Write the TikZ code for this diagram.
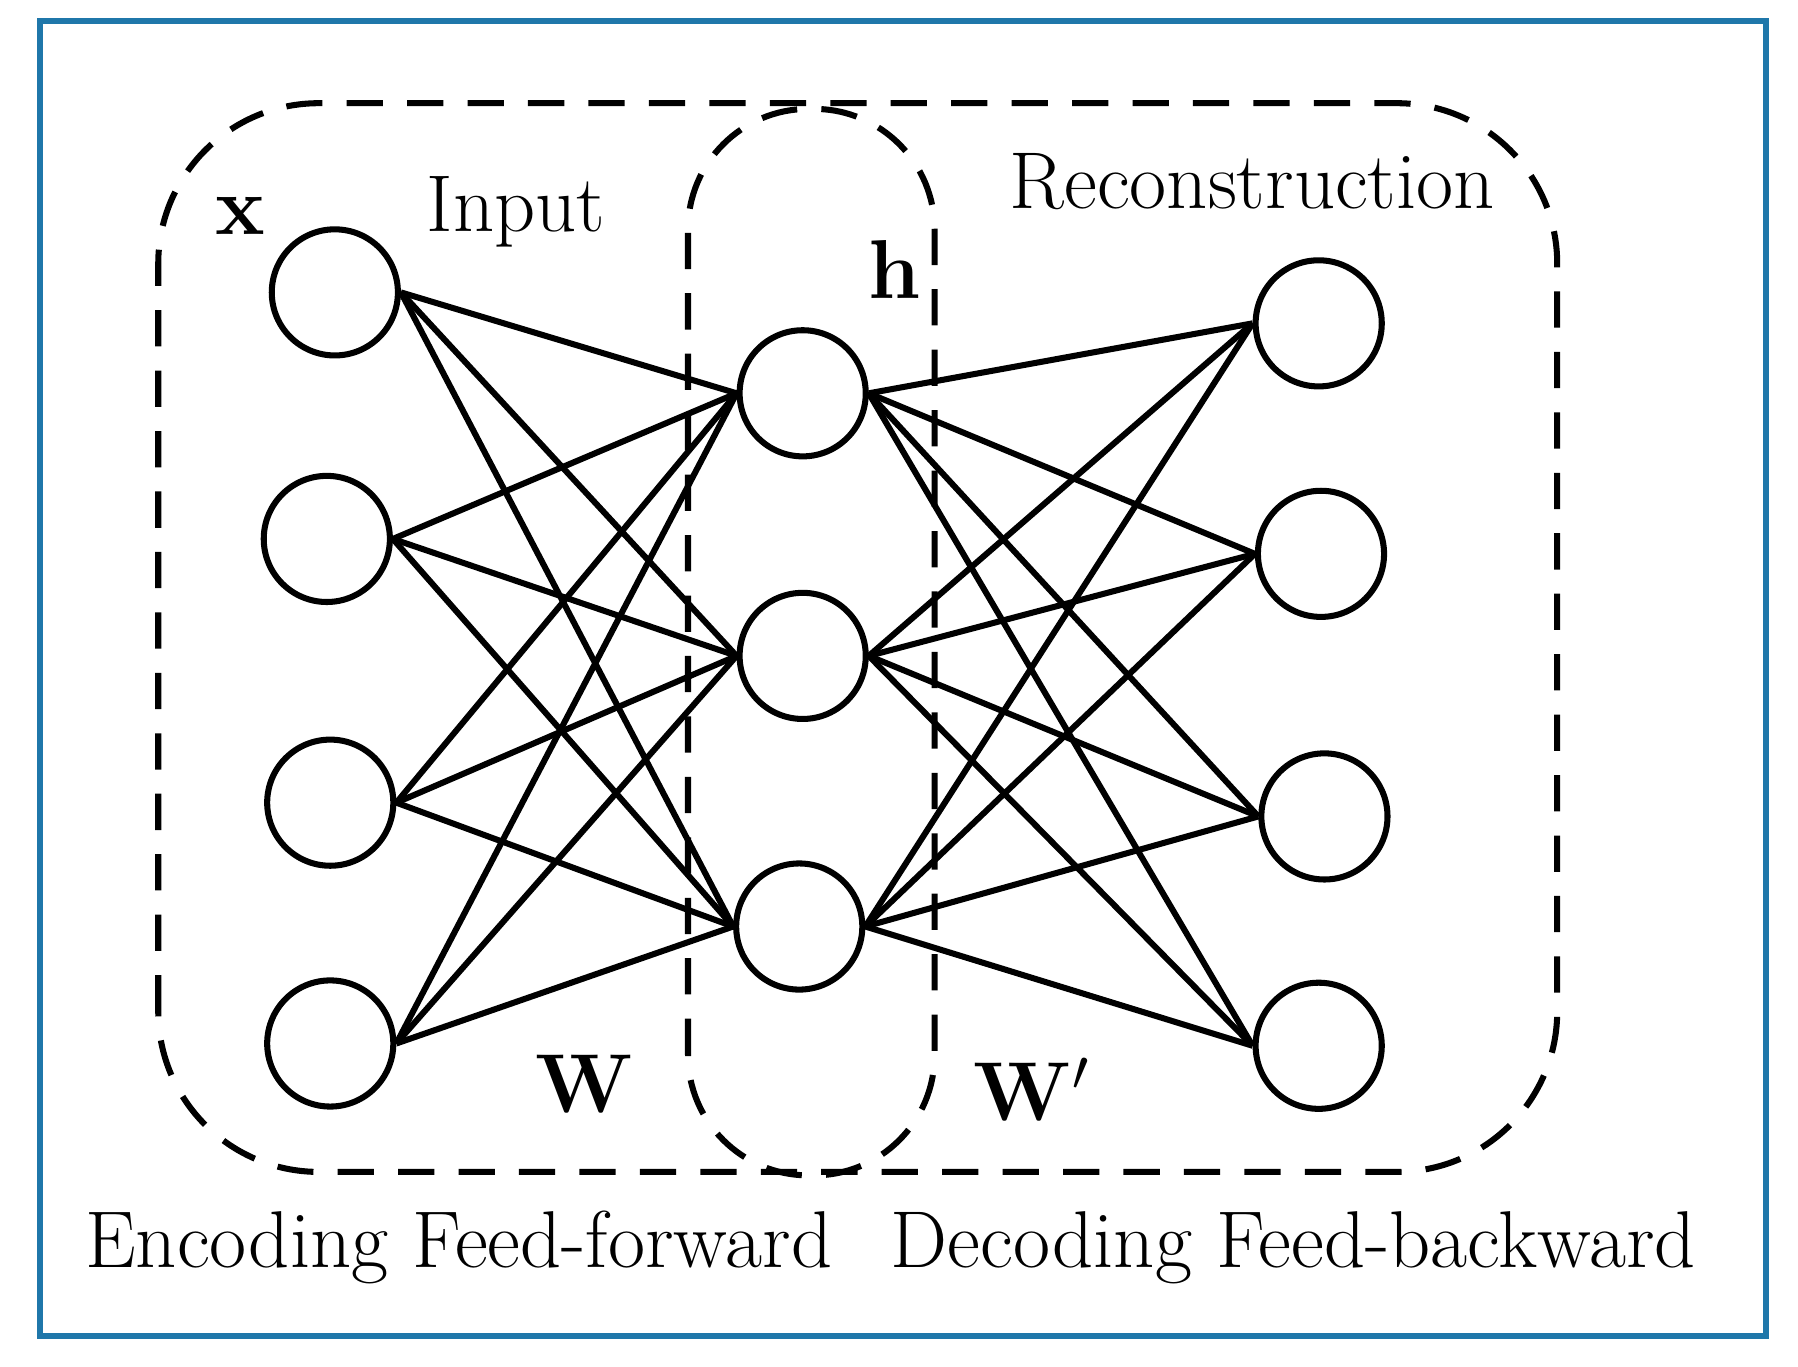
\documentclass[tikz,border=0pt]{standalone}
\usepackage{tikz}
\usetikzlibrary{arrows,shapes,calc}
\tikzstyle{neuron}=[circle, draw, minimum size=1.1cm, line width=1.5pt, inner sep=0pt]
\tikzstyle{edge}=[line width=1.5pt]
\tikzstyle{group}=[dashed, dash pattern=on 9pt off 6pt, line width=1.5pt]
\tikzstyle{lbl}=[font=\fontsize{20}{24}\selectfont]
\begin{document}
\begin{tikzpicture}
      \useasboundingbox (0,0) rectangle (15.68,11.92);
      \draw[line width=1.5pt, color={rgb,255:red,31;green,119;blue,170}] (0.35,0.27) rectangle (15.40,11.74);
      \draw[group, rounded corners=1.4cm] (1.38,1.70) rectangle (13.58,11.02);
      \draw[group, rounded corners=1.05cm] (6.00,1.67) rectangle (8.15,10.97);
      \node(x1) [neuron] at (2.92, 9.37){};
      \node(x2) [neuron] at (2.85, 7.22){};
      \node(x3) [neuron] at (2.88, 4.92){};
      \node(x4) [neuron] at (2.88, 2.82){};
      \node(h1) [neuron] at (7.00, 8.49){};
      \node(h2) [neuron] at (7.00, 6.20){};
      \node(h3) [neuron] at (6.97, 3.84){};
      \node(y1) [neuron] at (11.50, 9.10){};
      \node(y2) [neuron] at (11.52, 7.09){};
      \node(y3) [neuron] at (11.55, 4.80){};
      \node(y4) [neuron] at (11.50, 2.80){};
      \foreach \i in {1,...,4}
        \foreach \j in {1,2,3}{
          \draw[edge] (x\i.east) -- (h\j.west);
          \draw[edge] (h\j.east) -- (y\i.west);
        }
      \node[lbl] at (2.10, 10.04){$\mathbf{x}$};
      \node[lbl] at (4.50, 10.07){Input};
      \node[lbl] at (7.80, 9.57){$\mathbf{h}$};
      \node[lbl] at (10.92, 10.34){Reconstruction};
      \node[lbl] at (5.10, 2.47){$\mathbf{W}$};
      \node[lbl] at (9.00, 2.42){$\mathbf{W'}$};
      \node[lbl] at (4.00, 1.04){Encoding Feed-forward};
      \node[lbl] at (11.28, 1.04){Decoding Feed-backward};
\end{tikzpicture}
\end{document}
